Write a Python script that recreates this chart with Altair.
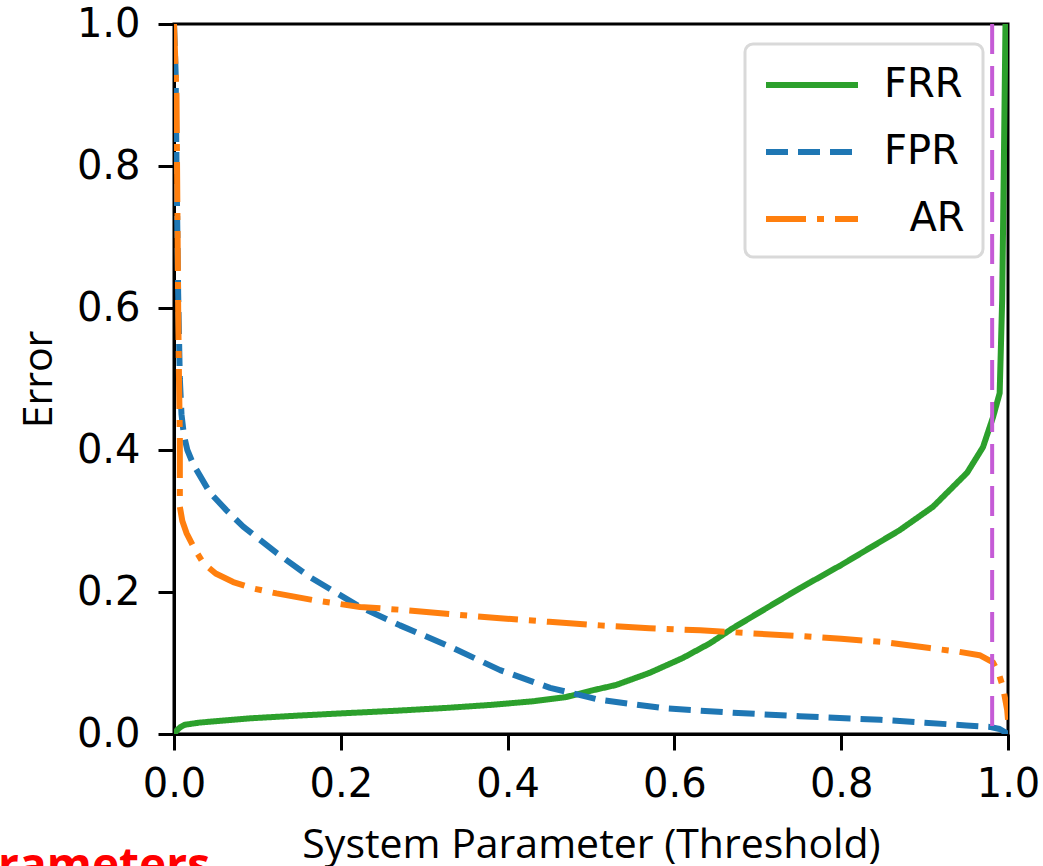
import altair as alt
import pandas as pd

# ---- data ----
# leading zero-width space keeps the two no-break spaces from being trimmed
AR_LABEL = "\u200b\u00a0\u00a0AR"
series_names = ["FRR", "FPR", AR_LABEL]
series_colors = ["#2ca02c", "#1f77b4", "#ff7f0e"]
series_dashes = [[1, 0], [22, 10], [40, 11, 7, 11]]

frr_x = [0.0, 0.004, 0.008, 0.013, 0.03, 0.06, 0.09, 0.15, 0.2, 0.27, 0.33, 0.38, 0.43,
         0.47, 0.5, 0.53, 0.57, 0.61, 0.643, 0.67, 0.71, 0.75, 0.8, 0.87, 0.91, 0.951,
         0.97, 0.982, 0.99, 0.993, 0.995, 0.997]
frr_y = [0.0, 0.006, 0.010, 0.013, 0.016, 0.019, 0.022, 0.026, 0.029, 0.033, 0.037, 0.041,
         0.046, 0.052, 0.061, 0.069, 0.086, 0.107, 0.128, 0.149, 0.177, 0.205, 0.238, 0.287,
         0.32, 0.368, 0.404, 0.446, 0.48, 0.611, 0.8, 1.0]

fpr_x = [0.0, 0.002, 0.003, 0.005, 0.007, 0.009, 0.012, 0.016, 0.023, 0.043, 0.063, 0.083,
         0.123, 0.163, 0.223, 0.271, 0.331, 0.391, 0.451, 0.511, 0.59, 0.67, 0.75, 0.847,
         0.9, 0.95, 0.978, 0.99, 1.0]
fpr_y = [1.0, 0.93, 0.8, 0.62, 0.5, 0.45, 0.42, 0.40, 0.38, 0.34, 0.315, 0.292, 0.255, 0.221,
         0.179, 0.153, 0.123, 0.09, 0.065, 0.048, 0.036, 0.030, 0.025, 0.02, 0.016, 0.012,
         0.01, 0.007, 0.0]

ar_x = [0.0, 0.003, 0.004, 0.005, 0.006, 0.007, 0.007, 0.01, 0.015, 0.025, 0.035, 0.05,
        0.071, 0.095, 0.123, 0.17, 0.223, 0.271, 0.33, 0.391, 0.45, 0.511, 0.57, 0.631,
        0.69, 0.751, 0.8, 0.847, 0.906, 0.94, 0.966, 0.982, 0.989, 0.994, 0.999, 1.0]
ar_y = [1.0, 0.9, 0.75, 0.6, 0.5, 0.42, 0.32, 0.30, 0.283, 0.26, 0.241, 0.226, 0.214, 0.205,
        0.198, 0.188, 0.179, 0.175, 0.169, 0.163, 0.158, 0.153, 0.149, 0.146, 0.142, 0.138,
        0.134, 0.13, 0.121, 0.116, 0.111, 0.101, 0.085, 0.066, 0.034, 0.02]

threshold = [0.981]
ticks = [0.0, 0.2, 0.4, 0.6, 0.8, 1.0]
x_title = "System Parameter (Threshold)"
y_title = "Error"
note_text = ["Parameters"]

# ---- build tables ----
def frame(name, xs, ys):
    return pd.DataFrame({"x": xs, "y": ys, "series": name, "idx": list(range(len(xs)))})

frames = [frame("FRR", frr_x, frr_y), frame("FPR", fpr_x, fpr_y), frame(AR_LABEL, ar_x, ar_y)]

xscale = alt.Scale(domain=[0, 1], nice=False, zero=False)
yscale = alt.Scale(domain=[0, 1], nice=False, zero=False)

x_axis = alt.Axis(values=ticks, format=".1f", title=x_title, titleFont="Open Sans",
                  titleFontSize=41, titleFontWeight="normal", titleColor="black",
                  titleY=123, titleBaseline="alphabetic",
                  labelFont="DejaVu Sans", labelFontSize=40, labelColor="black",
                  labelPadding=14, labelFlush=False, labelOverlap=False,
                  tickSize=16, tickWidth=3, tickColor="black",
                  domainColor="black", domainWidth=3, grid=False)
y_axis = alt.Axis(values=ticks, format=".1f", title=y_title, titleFont="Open Sans",
                  titleFontSize=41, titleFontWeight="normal", titleColor="black",
                  titleX=-123, titleY=355, titleBaseline="alphabetic", titleAngle=270,
                  labelFont="DejaVu Sans", labelFontSize=40, labelColor="black",
                  labelPadding=18, labelFlush=False, labelOverlap=False,
                  tickSize=16, tickWidth=3, tickColor="black",
                  domainColor="black", domainWidth=3, grid=False)

# a wide, flat line symbol drawn to the right of the entry origin
legend = alt.Legend(orient="none", legendX=571, legendY=20, title=None,
                    labelFont="DejaVu Sans", labelFontSize=40, labelColor="black",
                    symbolType="M-1,0L3.6,0", symbolSize=1600, symbolStrokeWidth=6,
                    labelOffset=75, padding=18, rowPadding=24,
                    strokeColor="#d9d9d9", fillColor="white", cornerRadius=8)

color = alt.Color("series:N", scale=alt.Scale(domain=series_names, range=series_colors),
                  legend=legend)
dash = alt.StrokeDash("series:N", scale=alt.Scale(domain=series_names, range=series_dashes),
                      legend=legend)

layers = []
for i, df in enumerate(frames):
    layers.append(
        alt.Chart(df).mark_line(clip=True, strokeWidth=6, strokeCap="butt",
                                strokeJoin="round").encode(
            x=alt.X("x:Q", scale=xscale, axis=x_axis),
            y=alt.Y("y:Q", scale=yscale, axis=y_axis),
            color=color,
            strokeDash=dash,
            order=alt.Order("idx:Q"),
        )
    )

rule = alt.Chart(pd.DataFrame({"x": threshold})).mark_rule(
    color="#c55bd6", strokeWidth=4, strokeDash=[30, 12]).encode(
    x=alt.X("x:Q", scale=xscale, axis=x_axis))

note = alt.Chart(pd.DataFrame({"t": note_text})).mark_text(
    align="right", baseline="alphabetic", font="Open Sans", fontWeight="bold",
    fontSize=46, color="#ff0000").encode(
    x=alt.value(36), y=alt.value(857), text="t:N")

chart = alt.layer(*layers, rule, note).properties(
    width=834, height=710,
    autosize=alt.AutoSizeParams(type="none"),
    padding={"left": 174, "top": 24, "right": 35, "bottom": 132},
).configure_view(stroke="black", strokeWidth=3).configure_legend(strokeWidth=3)

chart.save("out.html", embed_options={"renderer": "svg", "actions": False})
